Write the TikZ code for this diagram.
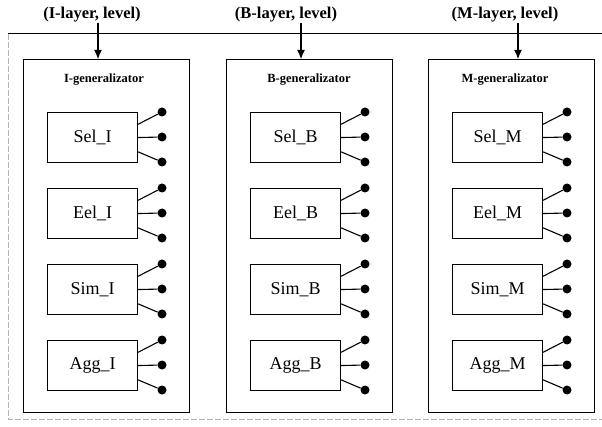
\documentclass[tikz,border=0pt]{standalone}
\usepackage{fontspec}
\setmainfont{Liberation Serif}
\usetikzlibrary{arrows.meta,calc}
\begin{document}
\begin{tikzpicture}[x=1pt,y=-1pt,
  gen/.style={draw,line width=1.1pt,minimum width=166pt,minimum height=353pt,anchor=north west,inner sep=0pt},
  opbox/.style={draw,line width=1.1pt,minimum width=90pt,minimum height=50pt,anchor=north west,inner sep=0pt,font=\fontsize{18}{21}\selectfont},
  dot/.style={circle,fill,inner sep=0pt,minimum size=9pt},
  layerlab/.style={font=\fontsize{16.5}{19}\selectfont\bfseries},
  genlab/.style={font=\fontsize{12.5}{15}\selectfont\bfseries},
  wire/.style={line width=1.1pt},
  feed/.style={line width=1.1pt,-{Latex[length=9pt,width=8pt]}},
  frameline/.style={line width=1pt},
  faint/.style={line width=0.7pt,gray!60,dash pattern=on 6pt off 2pt}]
\useasboundingbox (0,0) rectangle (602,427);
% enclosing frame
\coordinate (fbl) at (8,419);
\coordinate (ftl) at (8,34);
\coordinate (ftr) at (602,34);
\coordinate (fbr) at (602,419);
\draw[frameline] (ftl) -- (ftr);
\draw[faint] (ftl) -- (fbl) -- (fbr);
% one generalizator per layer
\foreach \g/\gx/\ax/\lx/\tx in {I/23/98/92/104, B/226/301/286/309, M/428/518/505/505} {
  \node[gen] (gen\g) at (\gx,59) {};
  \node[genlab] (title\g) at (\tx,80) {\g-generalizator};
  \node[layerlab] (lab\g) at (\lx,15) {(\g-layer, level)};
  \coordinate (arr\g) at (\ax,23);
  \draw[feed] (arr\g) -- (arr\g |- gen\g.north);
  \foreach \op [count=\k from 0] in {Sel,Eel,Sim,Agg} {
    \node[opbox] (\op\g) at (\gx+24,112+76*\k) {\op\_\g};
    \foreach \j/\f in {0/0.24,1/0.5,2/0.78} {
      \node[dot] (d\op\g\j) at (\gx+139,112+76*\k+25*\j) {};
      \draw[wire] ($(\op\g.north east)!\f!(\op\g.south east)$) -- (d\op\g\j);
    }
  }
}
\end{tikzpicture}
\end{document}
